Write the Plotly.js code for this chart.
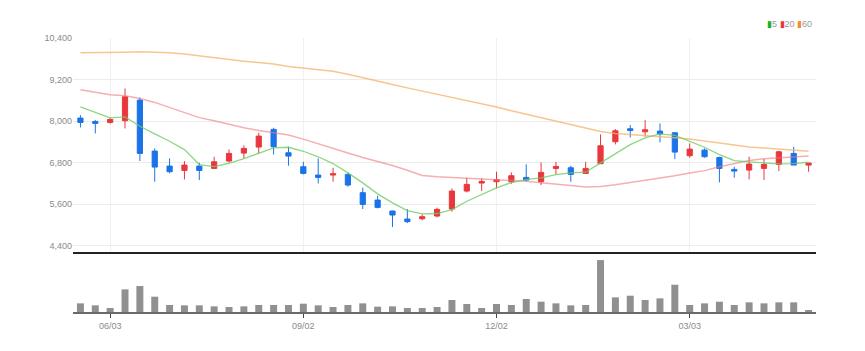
<!DOCTYPE html>
<html>
<head>
<meta charset="utf-8">
<script src="https://cdn.plot.ly/plotly-3.0.1.min.js"></script>
<style>html,body{margin:0;padding:0;background:#fff;}#chart{width:865px;height:351px;}</style>
</head>
<body>
<div id="chart"></div>
<script>
// Weekly dates
const dates = ['2024-05-20','2024-05-27','2024-06-03','2024-06-10','2024-06-17','2024-06-24','2024-07-01','2024-07-08','2024-07-15','2024-07-22',
  '2024-07-29','2024-08-05','2024-08-12','2024-08-19','2024-08-26','2024-09-02','2024-09-09','2024-09-16','2024-09-23','2024-09-30',
  '2024-10-07','2024-10-14','2024-10-21','2024-10-28','2024-11-04','2024-11-11','2024-11-18','2024-11-25','2024-12-02','2024-12-09',
  '2024-12-16','2024-12-23','2024-12-30','2025-01-06','2025-01-13','2025-01-20','2025-01-27','2025-02-03','2025-02-10','2025-02-17',
  '2025-02-24','2025-03-03','2025-03-10','2025-03-17','2025-03-24','2025-03-31','2025-04-07','2025-04-14','2025-04-21','2025-04-28'];

const openP  = [8087,7990,7962,8010,8606,7134,6701,6576,6701,6634, 6846,7076,7250,7760,7086,6682,6442,6442,6461,5932,
                5720,5403,5172,5181,5258,5460,5980,6211,6250,6250, 6374,6250,6634,6653,6490,6769,7404,7779,7692,7711,
                7663,7000,7163,6951,6605,6586,6634,6749,7067,6730];
const highP  = [8173,8030,8096,8943,8683,7211,6923,6846,6798,6971, 7182,7298,7663,7808,7259,6826,6923,6653,6519,6076,
                5845,5410,5460,5306,5499,6057,6365,6346,6538,6519, 6750,6807,6826,6711,6826,7615,7769,7885,8029,7933,
                7680,7355,7211,6971,6682,6971,6903,7144,7259,6788];
const lowP   = [7817,7644,7923,7788,6846,6249,6490,6316,6297,6615, 6808,6923,7067,7038,6711,6461,6200,6250,6105,5460,
                5479,4941,5057,5133,5220,5383,5941,5980,6057,6192, 6250,6153,6461,6250,6490,6769,7327,7529,7548,7384,
                6903,6942,6942,6230,6365,6317,6297,6557,6730,6538];
const closeP = [7962,7933,8048,8702,7067,6672,6538,6730,6576,6826, 7067,7211,7567,7259,6990,6490,6374,6480,6153,5595,
                5508,5287,5095,5239,5451,5980,6172,6259,6307,6423, 6297,6519,6692,6461,6634,7288,7721,7731,7750,7625,
                7105,7192,6971,6634,6557,6759,6749,7115,6730,6788];

const ma5  = [8409,8250,8092,8121,7850,7630,7417,7178,6745,6687, 6783,6918,7082,7226,7245,7129,6970,6774,6505,6216,
              5899,5639,5417,5322,5331,5446,5686,5879,6072,6225, 6312,6360,6456,6505,6524,6794,7053,7322,7514,7630,
              7590,7417,7245,7033,6860,6822,6783,6764,6774,6812];
const ma20 = [8908,8830,8764,8735,8650,8540,8400,8250,8100,8010, 7900,7810,7730,7660,7600,7480,7340,7210,7080,6950,
              6840,6720,6580,6430,6390,6380,6350,6330,6310,6280, 6260,6220,6190,6140,6100,6110,6160,6220,6280,6340,
              6420,6500,6570,6680,6780,6860,6910,6940,6966,6990];
const ma60 = [9976,9976,9976,9990,10000,9990,9976,9935,9880,9830, 9780,9730,9690,9650,9580,9534,9480,9437,9350,9260,
              9160,9060,8960,8870,8770,8680,8600,8500,8410,8300, 8200,8100,8000,7880,7790,7700,7640,7610,7595,7560,
              7520,7480,7420,7350,7300,7250,7220,7190,7150,7130];

const volume = [130000,100000,60000,340000,390000,230000,105000,100000,100000,85000, 75000,85000,105000,105000,105000,125000,100000,75000,105000,130000,
                80000,85000,60000,60000,75000,180000,120000,60000,120000,105000, 195000,155000,130000,100000,105000,780000,220000,245000,180000,205000,
                410000,105000,130000,155000,105000,145000,130000,145000,145000,30000];

const priceTicks = [4400,5600,6800,8000,9200,10400];
const dateTicks = ['2024-06-03','2024-09-02','2024-12-02','2025-03-03'];
const dateTickText = ['06/03','09/02','12/02','03/03'];
const maNames = ['5','20','60'];

const FONT = 'Liberation Sans Narrow, Arial Narrow, Liberation Sans, sans-serif';

const traces = [
  {type:'candlestick', x:dates, open:openP, high:highP, low:lowP, close:closeP,
   xaxis:'x2', yaxis:'y2', showlegend:false, hoverinfo:'skip', whiskerwidth:0,
   increasing:{line:{color:'#e8383d', width:1}, fillcolor:'#e8383d'},
   decreasing:{line:{color:'#1a73e8', width:1}, fillcolor:'#1a73e8'}},
  {type:'scatter', mode:'lines', x:dates, y:ma60, xaxis:'x2', yaxis:'y2', name:maNames[2], showlegend:false,
   line:{color:'rgba(246,178,107,0.75)', width:1.5}, hoverinfo:'skip'},
  {type:'scatter', mode:'lines', x:dates, y:ma20, xaxis:'x2', yaxis:'y2', name:maNames[1], showlegend:false,
   line:{color:'rgba(240,120,125,0.6)', width:1.5}, hoverinfo:'skip'},
  {type:'scatter', mode:'lines', x:dates, y:ma5, xaxis:'x2', yaxis:'y2', name:maNames[0], showlegend:false,
   line:{color:'rgba(110,205,100,0.8)', width:1.3}, hoverinfo:'skip'},
  {type:'bar', x:dates, y:volume, xaxis:'x', yaxis:'y', marker:{color:'#909090'}, showlegend:false, hoverinfo:'skip'}
];

const xr = ['2024-05-16 12:00','2025-05-01 12:00'];
const layout = {
  width:865, height:351,
  margin:{l:73, r:49, t:38, b:39},
  paper_bgcolor:'#fff', plot_bgcolor:'#fff',
  font:{family:FONT, size:9, color:'#8a8a8a'},
  showlegend:false,
  bargap:0.53,
  boxgap:0.5,
  xaxis:{type:'date', range:xr, anchor:'y', showgrid:false, zeroline:false,
    tickvals:dateTicks, ticktext:dateTickText, ticks:'outside', ticklen:4, tickwidth:1, tickcolor:'#444',
    showline:true, linecolor:'#6a6a6a', linewidth:2, rangeslider:{visible:false},
    tickfont:{family:FONT, size:9, color:'#8a8a8a'}},
  xaxis2:{type:'date', range:xr, anchor:'y2', matches:'x', showgrid:true, gridcolor:'#f0f0f0', gridwidth:1,
    tickvals:dateTicks, showticklabels:false, ticks:'', zeroline:false,
    showline:true, linecolor:'#222', linewidth:2, rangeslider:{visible:false}},
  yaxis:{domain:[0,0.204], range:[0,840000], showgrid:false, showticklabels:false, zeroline:false, fixedrange:true},
  yaxis2:{domain:[0.219,1], range:[4220,10400], tickvals:priceTicks, tickformat:',d', showgrid:true,
    gridcolor:'#ececec', gridwidth:1, zeroline:false, ticks:'', showline:false,
    tickfont:{family:FONT, size:9, color:'#8a8a8a'}},
  annotations:[{
    xref:'paper', yref:'paper', x:0.997, y:1.05, xanchor:'right', yanchor:'middle', showarrow:false,
    text:'<span style="color:#22b022">▮</span>'+maNames[0]+' <span style="color:#e8383d">▮</span>'+maNames[1]+' <span style="color:#f0902a">▮</span>'+maNames[2],
    font:{family:FONT, size:9, color:'#9a9a9a'}
  }]
};

Plotly.newPlot('chart', traces, layout, {staticPlot:true, displayModeBar:false});
</script>
</body>
</html>
